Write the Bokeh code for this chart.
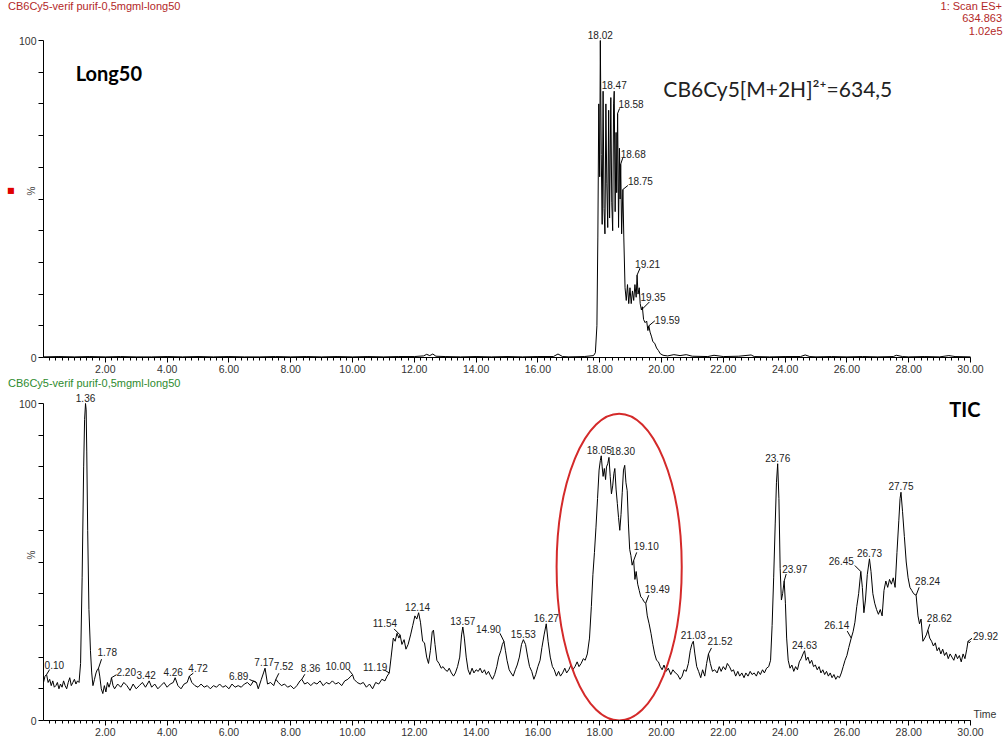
import numpy as np
from bokeh.plotting import figure
from bokeh.layouts import column
from bokeh.models import Label, FixedTicker, PrintfTickFormatter, Range1d, Div, LinearAxis
from bokeh.embed import file_html
from bokeh.resources import INLINE

# ---------------- data ----------------
# Extracted ion chromatogram (m/z 634.5) : (time min, relative %)
top_trace = [
    (0.0, 0.2), (0.5, 0.3), (1.0, 0.2), (1.5, 0.3), (2.0, 0.2), (2.5, 0.3), (3.0, 0.2),
    (3.5, 0.2), (4.0, 0.3), (4.5, 0.2), (5.0, 0.3), (5.5, 0.2), (6.0, 0.3), (6.5, 0.2),
    (7.0, 0.2), (7.5, 0.3), (8.0, 0.2), (8.5, 0.3), (9.0, 0.2), (9.5, 0.3), (10.0, 0.2),
    (10.5, 0.3), (11.0, 0.2), (11.5, 0.3), (12.0, 0.3), (12.3, 0.5), (12.4, 1.0), (12.5, 0.6),
    (12.6, 1.1), (12.7, 0.4), (13.0, 0.3), (13.5, 0.2), (14.0, 0.3), (14.5, 0.2), (15.0, 0.3),
    (15.5, 0.2), (16.0, 0.3), (16.5, 0.3), (16.65, 1.1), (16.8, 0.3), (17.0, 0.2), (17.5, 0.3),
    (17.80, 0.6), (17.86, 1.5), (17.91, 10), (17.94, 38), (17.97, 80), (18.00, 57), (18.02, 100),
    (18.05, 64), (18.08, 42), (18.11, 84), (18.14, 47), (18.17, 39), (18.20, 80), (18.23, 55),
    (18.26, 41), (18.29, 78), (18.32, 44), (18.36, 82), (18.39, 49), (18.42, 40), (18.45, 80),
    (18.47, 84), (18.50, 46), (18.53, 71), (18.55, 52), (18.58, 77), (18.61, 41), (18.64, 66),
    (18.66, 50), (18.68, 61), (18.71, 39), (18.75, 53), (18.78, 38),
    (18.82, 22), (18.86, 18), (18.90, 23), (18.94, 17), (18.98, 22), (19.02, 17), (19.06, 21),
    (19.10, 18), (19.14, 23), (19.18, 19), (19.21, 26), (19.24, 20), (19.28, 22), (19.31, 17),
    (19.35, 15), (19.38, 16), (19.42, 12), (19.47, 11), (19.52, 11.5), (19.56, 8.5), (19.59, 10),
    (19.63, 8), (19.68, 6.5), (19.72, 5), (19.78, 4.5), (19.84, 3), (19.90, 2.2), (19.96, 1.2),
    (20.05, 0.7), (20.2, 0.5), (20.4, 0.9), (20.6, 0.6), (20.8, 0.9), (21.0, 0.4), (21.5, 0.3),
    (21.7, 0.7), (22.0, 0.3), (22.5, 0.4), (22.9, 0.8), (23.0, 0.3), (23.5, 0.2), (24.0, 0.3),
    (24.5, 0.3), (24.65, 0.8), (24.8, 0.3), (25.0, 0.2), (25.5, 0.3), (26.0, 0.2), (26.5, 0.3),
    (27.0, 0.2), (27.5, 0.3), (27.6, 0.7), (27.8, 0.3), (28.0, 0.2), (28.5, 0.3), (29.0, 0.2),
    (29.3, 0.6), (29.5, 0.3), (30.0, 0.2),
]

# Total ion current chromatogram : (time min, relative %)
tic_trace = [
    (0.00, 12.0), (0.05, 14.0), (0.10, 14.5), (0.15, 12.0), (0.20, 13.0), (0.25, 11.0), (0.30, 12.5),
    (0.35, 10.5), (0.40, 11.0), (0.45, 12.0), (0.50, 10.0), (0.55, 11.5), (0.60, 10.5), (0.65, 12.5),
    (0.70, 11.0), (0.75, 10.0), (0.80, 12.0), (0.85, 13.5), (0.90, 11.0), (0.95, 12.0), (1.00, 13.0),
    (1.05, 11.5), (1.10, 12.5), (1.15, 12.0), (1.20, 18.0), (1.25, 45.0), (1.30, 80.0), (1.33, 95.0),
    (1.36, 100.0), (1.38, 98.0), (1.40, 85.0), (1.43, 60.0), (1.47, 35.0), (1.52, 22.0), (1.56, 15.0),
    (1.60, 11.0), (1.65, 13.0), (1.70, 15.0), (1.74, 16.0), (1.78, 16.5), (1.82, 14.0), (1.87, 10.0),
    (1.92, 8.5), (1.97, 11.0), (2.02, 9.0), (2.07, 12.0), (2.12, 10.5), (2.17, 12.0), (2.20, 13.5),
    (2.25, 11.0), (2.30, 10.0), (2.40, 11.5), (2.50, 10.5), (2.60, 12.0), (2.70, 11.0), (2.80, 9.5),
    (2.90, 11.5), (3.00, 10.0), (3.10, 11.0), (3.20, 12.0), (3.30, 10.5), (3.42, 12.5), (3.50, 10.5),
    (3.60, 11.5), (3.70, 10.0), (3.80, 11.0), (3.90, 12.0), (4.00, 10.5), (4.10, 11.5), (4.20, 12.0),
    (4.26, 13.5), (4.35, 11.0), (4.45, 10.0), (4.55, 11.5), (4.65, 12.0), (4.72, 14.0), (4.80, 12.0),
    (4.90, 11.0), (5.00, 10.5), (5.10, 11.5), (5.20, 10.5), (5.30, 11.0), (5.40, 10.0), (5.50, 11.0),
    (5.60, 10.5), (5.70, 11.5), (5.80, 10.5), (5.90, 11.0), (6.00, 10.0), (6.10, 11.5), (6.20, 10.5),
    (6.30, 11.0), (6.40, 10.5), (6.50, 11.5), (6.60, 12.0), (6.70, 11.0), (6.80, 12.5), (6.89, 12.0),
    (6.95, 10.0), (7.05, 13.0), (7.12, 15.0), (7.17, 16.5), (7.25, 11.5), (7.35, 12.0), (7.45, 11.0),
    (7.52, 13.0), (7.60, 12.0), (7.70, 11.0), (7.80, 11.5), (7.90, 10.5), (8.00, 11.0), (8.10, 10.0),
    (8.20, 11.0), (8.30, 12.5), (8.36, 13.0), (8.45, 11.5), (8.55, 12.0), (8.65, 11.0), (8.75, 12.0),
    (8.85, 11.5), (8.95, 12.5), (9.05, 11.0), (9.15, 12.0), (9.25, 11.5), (9.35, 12.5), (9.45, 11.5),
    (9.55, 12.0), (9.65, 11.0), (9.75, 12.5), (9.85, 13.0), (9.95, 14.0), (10.00, 14.5), (10.05, 13.0),
    (10.15, 12.0), (10.25, 11.5), (10.35, 12.0), (10.45, 10.5), (10.55, 11.5), (10.65, 10.0),
    (10.75, 12.0), (10.85, 11.5), (10.95, 13.0), (11.05, 12.5), (11.12, 14.0), (11.19, 15.0),
    (11.25, 20.0), (11.32, 26.0), (11.38, 25.0), (11.44, 27.5), (11.50, 26.0), (11.54, 27.0),
    (11.60, 24.0), (11.67, 25.5), (11.73, 22.5), (11.80, 24.0), (11.88, 27.0), (11.95, 30.0),
    (12.02, 33.0), (12.08, 32.0), (12.14, 34.0), (12.20, 31.0), (12.27, 25.0), (12.33, 24.5),
    (12.40, 20.0), (12.46, 18.0), (12.52, 22.0), (12.58, 28.0), (12.62, 28.5), (12.67, 24.0),
    (12.73, 19.0), (12.80, 18.0), (12.87, 16.5), (12.93, 17.0), (13.00, 16.0), (13.07, 15.5),
    (13.13, 16.5), (13.20, 15.0), (13.27, 14.0), (13.33, 15.0), (13.40, 17.0), (13.47, 20.0),
    (13.53, 27.0), (13.57, 29.5), (13.62, 26.0), (13.68, 20.0), (13.74, 16.0), (13.80, 14.5),
    (13.87, 16.5), (13.93, 15.0), (14.00, 16.0), (14.07, 15.5), (14.13, 16.5), (14.20, 15.0),
    (14.27, 16.0), (14.33, 14.5), (14.40, 15.5), (14.47, 14.0), (14.53, 13.0), (14.60, 14.5),
    (14.67, 17.0), (14.73, 20.0), (14.80, 22.0), (14.85, 24.0), (14.90, 25.0), (14.95, 22.0),
    (15.00, 19.0), (15.07, 16.0), (15.13, 15.0), (15.20, 14.0), (15.27, 16.0), (15.33, 17.5),
    (15.40, 20.0), (15.47, 24.0), (15.53, 25.5), (15.60, 24.0), (15.67, 20.0), (15.73, 17.0),
    (15.80, 15.5), (15.87, 13.0), (15.93, 14.5), (16.00, 17.0), (16.07, 19.0), (16.13, 23.0),
    (16.20, 27.0), (16.27, 30.5), (16.33, 25.0), (16.40, 20.0), (16.47, 17.0), (16.53, 16.0),
    (16.60, 14.0), (16.67, 15.5), (16.73, 14.0), (16.80, 15.0), (16.87, 16.5), (16.93, 15.0),
    (17.00, 16.0), (17.07, 17.5), (17.13, 16.0), (17.20, 17.0), (17.27, 18.5), (17.33, 17.0),
    (17.40, 18.0), (17.47, 19.5), (17.53, 19.0), (17.60, 21.0), (17.67, 26.0), (17.73, 36.0),
    (17.78, 46.0), (17.83, 53.0), (17.88, 61.0), (17.93, 70.0), (17.98, 79.0), (18.02, 82.0),
    (18.05, 83.5), (18.08, 80.0), (18.11, 77.0), (18.15, 79.5), (18.19, 76.0), (18.22, 80.0),
    (18.26, 81.0), (18.30, 83.0), (18.34, 77.0), (18.38, 71.5), (18.42, 74.0), (18.46, 78.0),
    (18.49, 79.5), (18.53, 73.0), (18.57, 68.5), (18.61, 64.0), (18.65, 60.0), (18.69, 65.0),
    (18.73, 72.0), (18.77, 79.0), (18.81, 80.5), (18.85, 75.0), (18.89, 72.5), (18.93, 62.0),
    (18.97, 54.0), (19.01, 52.0), (19.05, 49.0), (19.10, 50.5), (19.14, 44.5), (19.18, 47.0),
    (19.23, 43.0), (19.28, 41.0), (19.33, 39.0), (19.38, 38.5), (19.43, 37.5), (19.49, 37.0),
    (19.54, 33.0), (19.60, 30.5), (19.66, 27.5), (19.72, 24.0), (19.78, 21.0), (19.84, 19.0),
    (19.90, 18.5), (19.96, 17.0), (20.02, 16.0), (20.08, 17.5), (20.15, 15.5), (20.22, 16.5),
    (20.30, 14.5), (20.37, 16.0), (20.45, 15.0), (20.52, 14.5), (20.60, 13.0), (20.67, 14.0),
    (20.73, 16.0), (20.80, 15.5), (20.87, 18.0), (20.93, 22.0), (20.98, 24.0), (21.03, 25.0),
    (21.08, 21.0), (21.14, 17.0), (21.20, 15.5), (21.27, 13.5), (21.33, 16.0), (21.40, 14.0),
    (21.46, 18.0), (21.52, 21.0), (21.58, 18.0), (21.65, 15.5), (21.72, 16.0), (21.80, 15.0),
    (21.87, 17.0), (21.93, 15.5), (22.00, 17.0), (22.07, 16.0), (22.13, 18.0), (22.20, 17.0),
    (22.27, 15.5), (22.33, 16.0), (22.40, 14.0), (22.47, 15.5), (22.53, 14.0), (22.60, 15.0),
    (22.67, 13.5), (22.73, 15.0), (22.80, 14.0), (22.87, 15.5), (22.93, 14.5), (23.00, 15.0),
    (23.07, 14.0), (23.13, 15.5), (23.20, 14.5), (23.27, 16.0), (23.33, 15.0), (23.40, 16.5),
    (23.47, 17.0), (23.53, 19.0), (23.58, 30.0), (23.63, 45.0), (23.68, 62.0), (23.72, 75.0),
    (23.76, 81.0), (23.80, 70.0), (23.84, 48.0), (23.88, 38.0), (23.92, 40.0), (23.97, 44.0),
    (24.01, 37.0), (24.05, 26.0), (24.10, 19.0), (24.16, 16.5), (24.22, 17.5), (24.28, 15.5),
    (24.34, 17.0), (24.40, 16.0), (24.46, 18.5), (24.52, 19.5), (24.58, 21.0), (24.63, 22.0),
    (24.68, 19.0), (24.74, 20.0), (24.80, 18.0), (24.86, 19.0), (24.92, 17.0), (24.98, 17.5),
    (25.04, 16.0), (25.10, 17.0), (25.16, 15.0), (25.22, 16.0), (25.28, 14.5), (25.34, 15.5),
    (25.40, 14.0), (25.46, 15.0), (25.52, 13.5), (25.58, 14.5), (25.64, 13.0), (25.70, 14.0),
    (25.76, 13.5), (25.82, 15.0), (25.88, 17.0), (25.94, 19.0), (26.00, 20.5), (26.06, 23.0),
    (26.14, 26.0), (26.20, 28.0), (26.26, 31.0), (26.32, 36.0), (26.38, 40.0), (26.42, 44.0),
    (26.45, 47.0), (26.50, 42.0), (26.55, 34.0), (26.60, 38.0), (26.66, 46.0), (26.73, 51.0),
    (26.78, 47.0), (26.84, 40.0), (26.90, 37.0), (26.96, 35.0), (27.02, 33.5), (27.08, 35.0),
    (27.14, 33.0), (27.20, 41.0), (27.26, 44.0), (27.32, 42.0), (27.38, 44.5), (27.44, 43.0),
    (27.50, 45.0), (27.56, 42.0), (27.62, 53.0), (27.68, 63.0), (27.72, 70.0), (27.75, 72.0),
    (27.80, 66.0), (27.86, 58.0), (27.92, 50.0), (27.98, 45.0), (28.04, 42.0), (28.10, 41.0),
    (28.16, 40.0), (28.24, 39.5), (28.30, 33.0), (28.35, 30.5), (28.40, 32.0), (28.46, 25.0),
    (28.52, 26.0), (28.57, 27.0), (28.62, 28.5), (28.68, 26.0), (28.74, 25.0), (28.80, 23.5),
    (28.86, 24.5), (28.92, 22.0), (28.98, 23.0), (29.04, 21.0), (29.10, 22.5), (29.16, 20.5),
    (29.22, 21.5), (29.28, 19.5), (29.34, 21.0), (29.40, 20.0), (29.46, 19.0), (29.52, 21.0),
    (29.58, 19.5), (29.64, 20.5), (29.70, 18.5), (29.76, 21.0), (29.82, 19.5), (29.88, 22.5),
    (29.92, 25.0), (29.96, 24.5), (30.00, 25.0),
]

top_peak_times = [18.02, 18.47, 18.58, 18.68, 18.75, 19.21, 19.35, 19.59]
tic_peak_times = [0.10, 1.36, 1.78, 2.20, 3.42, 4.26, 4.72, 6.89, 7.17, 7.52, 8.36, 10.00, 11.19,
                  11.54, 12.14, 13.57, 14.90, 15.53, 16.27, 18.05, 18.30, 19.10, 19.49, 21.03,
                  21.52, 23.76, 23.97, 24.63, 26.14, 26.45, 26.73, 27.75, 28.24, 28.62, 29.92]

x_major_ticks = [2, 4, 6, 8, 10, 12, 14, 16, 18, 20, 22, 24, 26, 28, 30]
y_ticks = [0, 10, 20, 30, 40, 50, 60, 70, 80, 90, 100]

sample_name = "CB6Cy5-verif purif-0,5mgml-long50"
scan_info = ["1: Scan ES+", "634.863", "1.02e5"]
top_title = "Long50"
top_annotation = "CB6Cy5[M+2H]²⁺=634,5"
bottom_title = "TIC"

# highlight ellipse (time centre, % centre, width min, height %)
highlight = (18.63, 48.4, 4.05, 96.8)

# ---------------- label layout (style) ----------------
# (align, dx px, dy px (up), leader end offset px (x right, y down) or None)
top_label_layout = [
    ("center", 0, 2, None), ("center", 0, 2, None), ("left", 1, 5, (2, -5)),
    ("left", 0, 6, (2, -6)), ("left", 5, 4, (5, -4)), ("left", -2, 7, (3, -7)),
    ("left", -1, 9, (8, -8)), ("left", 6, 2, (6, -5)),
]
tic_label_layout = [
    ("left", -2, 6, (3, -5)), ("center", 0, 2, None), ("left", -1, 12, (3, -9)),
    ("left", 5, 2, (5, -3)), ("center", -3, 2, None), ("center", -2, 2, None),
    ("left", -1, 4, (4, -3)), ("right", -8, 2, (-7, -3)), ("center", -1, 2, None),
    ("left", -2, 9, (3, -6)), ("left", -1, 7, (3, -5)), ("right", -2, 5, (-4, -5)),
    ("right", -2, 2, (-5, -3)), ("right", -3, 8, (-6, -6)), ("center", -1, 2, None),
    ("center", 0, 2, None), ("right", -3, 8, (-4, -8)), ("center", 0, 2, None),
    ("center", 0, 2, None), ("center", -2, 2, None), ("left", 1, 2, None),
    ("left", 0, 10, (3, -8)), ("left", -1, 10, (3, -8)), ("center", 0, 2, None),
    ("left", -1, 9, (3, -6)), ("center", 0, 2, None), ("left", -2, 8, (2, -7)),
    ("center", 0, 2, None), ("right", -2, 9, (-4, -7)), ("right", -7, 7, (-6, -6)),
    ("center", 0, 2, None), ("center", 0, 2, None), ("left", -1, 10, (3, -8)),
    ("left", -1, 8, (2, -6)), ("left", 5, 1, (4, -3)),
]

PAGE_W = 1003
LEFT = 43
FRAME_W = PAGE_W - LEFT
PPM = 30.9                     # px per minute
X_END = FRAME_W / PPM
PPP = 3.17                     # px per %
AX_FONT = "Liberation Sans"
RED = "#b32828"
GREEN = "#2e8b2e"


def make_fig(head_px, with_square=False):
    y_end = 100 + head_px / PPP
    frame_h = int(round(y_end * PPP))
    p = figure(frame_width=FRAME_W, frame_height=frame_h,
               x_range=Range1d(0, X_END), y_range=Range1d(0, y_end),
               output_backend="svg", toolbar_location=None,
               min_border_left=LEFT, min_border_right=0,
               min_border_top=0, min_border_bottom=20)
    p.outline_line_color = None
    p.xgrid.visible = False
    p.ygrid.visible = False
    p.background_fill_color = "white"
    p.border_fill_color = "white"

    xa = p.xaxis[0]
    xa.bounds = (0, 30)
    xa.ticker = FixedTicker(ticks=x_major_ticks,
                            minor_ticks=[round(0.2 * i, 1) for i in range(1, 151)])
    xa.formatter = PrintfTickFormatter(format="%.2f")
    xa.major_tick_out = 5
    xa.major_tick_in = 0
    xa.minor_tick_out = 3
    xa.minor_tick_in = 0
    xa.major_label_standoff = 2
    xa.major_label_text_font = AX_FONT
    xa.major_label_text_font_size = "10.5px"
    xa.major_label_text_color = "#333333"
    xa.axis_line_color = "black"

    ya = p.yaxis[0]
    ya.bounds = (0, 100)
    ya.ticker = FixedTicker(ticks=y_ticks)
    ya.major_label_overrides = {t: "" for t in y_ticks if t not in (0, 100)}
    ya.major_tick_out = 5
    ya.major_tick_in = 0
    ya.minor_tick_out = 0
    ya.minor_tick_in = 0
    ya.major_label_standoff = 2
    ya.major_label_text_font = AX_FONT
    ya.major_label_text_font_size = "10.5px"
    ya.major_label_text_color = "#333333"
    ya.axis_line_color = "black"
    ya.axis_label = "%"
    ya.axis_label_text_font = AX_FONT
    ya.axis_label_text_font_style = "normal"
    ya.axis_label_text_font_size = "10px"
    ya.axis_label_text_color = "#444444"
    ya.axis_label_standoff = -21

    if with_square:
        sq = LinearAxis(ticker=FixedTicker(ticks=[]), bounds=(0, 100),
                        axis_line_color=None, major_tick_line_color=None,
                        minor_tick_line_color=None, major_tick_out=0, minor_tick_out=0,
                        major_label_standoff=0, major_label_text_font_size="0px",
                        axis_label="■", axis_label_text_color="#e00000",
                        axis_label_text_font="DejaVu Sans",
                        axis_label_text_font_style="normal",
                        axis_label_text_font_size="8px", axis_label_standoff=8)
        p.add_layout(sq, "left")
    return p


def add_trace(p, trace):
    t = [a for a, b in trace]
    v = [b for a, b in trace]
    p.line(t, v, line_color="black", line_width=1)
    return np.array(t), np.array(v)


def add_peak_labels(p, t_arr, v_arr, label_times, layouts):
    x0, y0, x1, y1 = [], [], [], []
    for lt, (align, dx, dy, leader) in zip(label_times, layouts):
        i = int(np.argmin(np.abs(t_arr - lt)))
        v = float(v_arr[i])
        p.add_layout(Label(x=lt, y=v, x_offset=dx, y_offset=dy, text=f"{lt:.2f}",
                           text_align=align, text_baseline="bottom",
                           text_font=AX_FONT, text_font_size="10px", text_color="#222222"))
        if leader is not None:
            x0.append(lt)
            y0.append(v)
            x1.append(lt + leader[0] / PPM)
            y1.append(v - leader[1] / PPP)
    if x0:
        p.segment(x0, y0, x1, y1, line_color="black", line_width=1)


def header_div(left_text, color, right_lines, height, pad_top, line_h):
    right = "<br>".join(right_lines)
    html = (
        f'<div style="position:relative;width:{PAGE_W}px;height:{height}px;'
        f'font-family:\'Liberation Sans\';font-size:11px;line-height:{line_h}px;color:{color};">'
        f'<span style="position:absolute;left:8px;top:{pad_top}px;white-space:nowrap;">{left_text}</span>'
        f'<span style="position:absolute;right:1px;top:{pad_top}px;text-align:right;white-space:nowrap;">{right}</span>'
        f'</div>'
    )
    return Div(text=html, width=PAGE_W, height=height, margin=0)


# ---------------- top panel ----------------
top = make_fig(16, with_square=True)
tt, tv = add_trace(top, top_trace)
add_peak_labels(top, tt, tv, top_peak_times, top_label_layout)
top.add_layout(Label(x=X_END, y=100, x_offset=-1, y_offset=10, text=scan_info[2],
                     text_align="right", text_baseline="middle",
                     text_font=AX_FONT, text_font_size="11px", text_color=RED))
top.add_layout(Label(x=1.04, y=89.9, text=top_title, text_align="left", text_baseline="middle",
                     text_font="Lato", text_font_style="bold", text_font_size="20px",
                     text_color="black"))
top.add_layout(Label(x=20.06, y=84.9, text=top_annotation, text_align="left",
                     text_baseline="middle", text_font="Lato", text_font_size="21px",
                     text_color="#222222"))

# ---------------- bottom panel (TIC) ----------------
bot = make_fig(14)
bt, bv = add_trace(bot, tic_trace)
add_peak_labels(bot, bt, bv, tic_peak_times, tic_label_layout)

hx, hy, hw, hh = highlight
bot.ellipse(x=hx, y=hy, width=hw, height=hh, fill_color=None,
            line_color="#d42a2a", line_width=2)

bot.add_layout(Label(x=30.32, y=98.4, text=bottom_title,
                     text_align="right", text_baseline="middle",
                     text_font="Lato", text_font_style="bold", text_font_size="20px",
                     text_color="black"))
bot.add_layout(Label(x=30, y=0, x_offset=3, y_offset=1, text="Time",
                     text_align="left", text_baseline="bottom",
                     text_font=AX_FONT, text_font_size="10.5px", text_color="#333333"))

head_top = header_div(sample_name, RED, scan_info[:2], 24, 1, 11.5)
head_bot = header_div(sample_name, GREEN, [], 12, 0, 12)

layout = column(head_top, top, head_bot, bot, spacing=0)
open("out.html", "w").write(file_html(layout, INLINE))
